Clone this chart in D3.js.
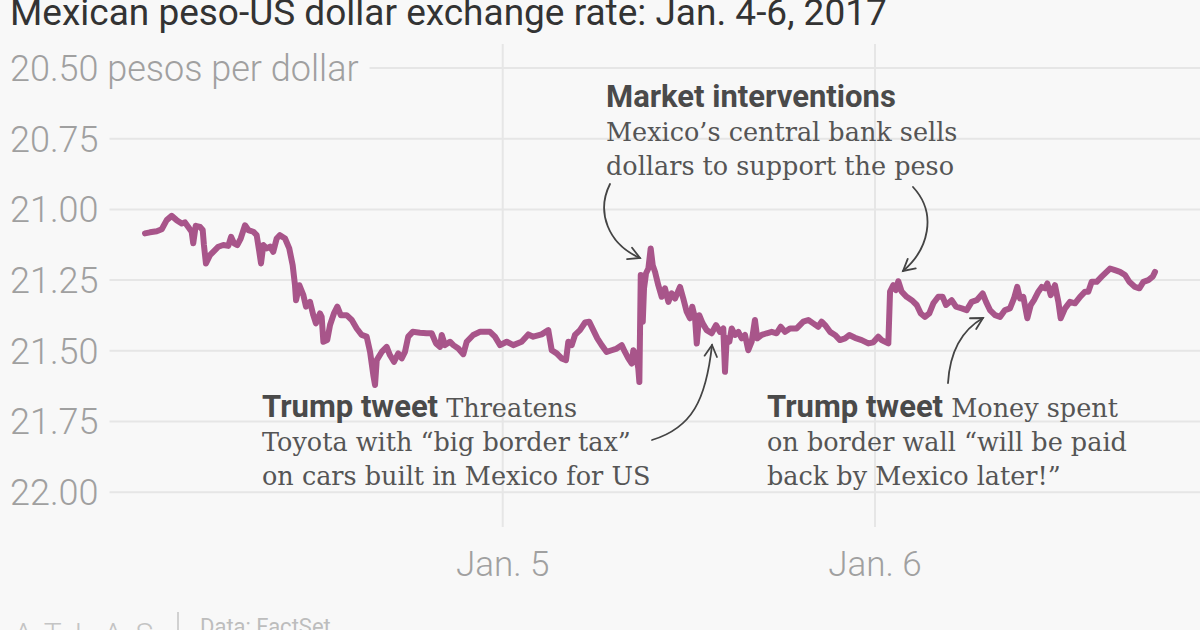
<!DOCTYPE html>
<html><head><meta charset="utf-8">
<script src="https://cdn.jsdelivr.net/npm/d3@7"></script>
<style>body{margin:0;background:#f8f8f8;} svg{display:block;}</style>
</head><body><svg id="c" width="1200" height="630"></svg>
<script>
// Hours since Jan. 4, 2017 00:00
const hours = [0.94,1.26,1.70,2.02,2.34,2.66,2.98,3.31,3.52,3.73,3.95,4.05,4.21,4.49,4.66,4.74,4.87,5.13,5.45,5.67,5.99,6.31,6.49,6.68,6.89,7.11,7.39,7.60,7.92,8.14,8.31,8.42,8.57,8.79,9.00,9.21,9.43,9.64,9.97,10.24,10.46,10.61,10.68,10.89,11.15,11.32,11.58,11.79,11.96,12.22,12.33,12.44,12.69,12.87,13.12,13.34,13.56,13.94,14.27,14.59,14.91,15.23,15.45,15.66,15.77,15.88,16.20,16.52,16.73,16.99,17.27,17.49,17.70,17.91,18.20,18.67,19.10,19.42,19.70,19.96,20.07,20.28,20.60,20.82,21.14,21.46,21.68,
22.10,22.54,23.18,23.50,23.83,24.26,24.68,25.22,25.65,25.97,26.51,26.94,27.16,27.48,27.80,28.08,28.23,28.45,28.66,28.98,29.31,29.58,29.84,30.10,30.38,30.70,31.03,31.35,31.67,31.88,32.10,32.32,32.42,32.59,32.74,32.81,32.90,33.03,33.11,33.24,33.39,33.54,33.67,33.82,34.03,34.25,34.46,34.68,34.89,35.11,35.43,35.64,35.86,36.07,36.22,36.40,36.51,36.67,36.89,37.15,37.47,37.75,38.01,38.22,38.33,38.44,38.61,38.76,38.97,39.19,39.41,39.62,39.83,40.05,40.26,40.41,40.70,41.02,41.34,41.66,41.92,42.20,42.52,42.95,
43.38,43.70,44.02,44.34,44.56,44.78,45.10,45.42,45.74,46.07,46.34,46.71,47.14,47.57,47.89,48.21,48.43,48.86,48.97,49.18,49.35,49.50,49.72,50.04,50.37,50.69,50.95,51.22,51.50,51.76,52.08,52.36,52.58,52.94,53.22,53.59,53.91,54.23,54.56,54.94,55.16,55.41,55.74,56.06,56.38,56.70,56.96,57.17,57.35,57.56,57.82,58.04,58.25,58.53,58.75,58.96,59.11,59.33,59.60,59.82,59.97,60.25,60.57,60.89,61.22,61.54,61.75,61.97,62.29,62.61,62.93,63.15,63.47,63.79,64.12,64.39,64.76,65.04,65.30,65.62,65.90,66.05];
// Pesos per US dollar
const rates = [21.085,21.081,21.077,21.070,21.038,21.023,21.038,21.050,21.046,21.062,21.079,21.120,21.058,21.062,21.073,21.126,21.191,21.162,21.144,21.132,21.126,21.129,21.097,21.120,21.126,21.103,21.056,21.073,21.079,21.091,21.150,21.191,21.126,21.138,21.132,21.150,21.103,21.091,21.103,21.138,21.197,21.268,21.321,21.268,21.303,21.344,21.327,21.374,21.403,21.368,21.380,21.468,21.462,21.409,21.368,21.344,21.374,21.374,21.391,21.421,21.444,21.450,21.504,21.586,21.621,21.533,21.504,21.486,21.515,21.539,21.509,21.527,21.504,21.450,21.433,21.436,21.438,21.438,21.474,21.486,21.444,21.480,21.468,21.480,21.492,21.512,21.468,
21.444,21.433,21.433,21.450,21.480,21.468,21.480,21.468,21.442,21.450,21.442,21.427,21.498,21.509,21.527,21.533,21.468,21.480,21.444,21.427,21.400,21.397,21.427,21.456,21.480,21.504,21.498,21.492,21.480,21.504,21.527,21.545,21.498,21.515,21.562,21.610,21.232,21.397,21.279,21.226,21.209,21.138,21.197,21.221,21.268,21.309,21.279,21.327,21.297,21.315,21.274,21.315,21.362,21.385,21.344,21.385,21.474,21.374,21.403,21.427,21.438,21.409,21.433,21.421,21.574,21.456,21.468,21.421,21.444,21.433,21.456,21.444,21.498,21.468,21.391,21.456,21.444,21.438,21.433,21.438,21.415,21.433,21.421,21.421,
21.397,21.391,21.403,21.415,21.397,21.409,21.433,21.444,21.462,21.456,21.444,21.454,21.462,21.474,21.470,21.450,21.462,21.474,21.291,21.268,21.285,21.254,21.291,21.309,21.321,21.338,21.368,21.380,21.368,21.332,21.309,21.309,21.338,21.321,21.344,21.350,21.356,21.327,21.321,21.297,21.327,21.356,21.374,21.380,21.356,21.350,21.315,21.274,21.315,21.309,21.385,21.338,21.321,21.291,21.274,21.279,21.262,21.303,21.268,21.327,21.385,21.350,21.327,21.332,21.309,21.291,21.291,21.256,21.256,21.238,21.221,21.209,21.215,21.221,21.232,21.256,21.274,21.279,21.256,21.250,21.238,21.221];

const yTicks = [20.5, 20.75, 21, 21.25, 21.5, 21.75, 22];
const yTickLabels = ["20.50 pesos per dollar", "20.75", "21.00", "21.25", "21.50", "21.75", "22.00"];
const xTickDates = [new Date(2017, 0, 5), new Date(2017, 0, 6)];
const xTickLabels = ["Jan. 5", "Jan. 6"];

const title = "Mexican peso-US dollar exchange rate: Jan. 4-6, 2017";
const source = "Data: FactSet";

const t0 = new Date(2017, 0, 4);
const data = hours.map((h, i) => ({t: new Date(+t0 + h * 3600e3), v: rates[i]}));

const svg = d3.select("#c");
const W = 1200;

const x = d3.scaleTime().domain([t0, new Date(2017, 0, 7)]).range([130.4, 1247.3]);
const y = d3.scaleLinear().domain([20.5, 22]).range([68, 492.2]);

const SANS = "Roboto, 'Noto Sans', sans-serif";
const SERIF = "'DejaVu Serif', serif";

svg.append("rect").attr("width", W).attr("height", 630).attr("fill", "#f8f8f8");

// vertical grid
svg.append("g").selectAll("line").data(xTickDates).join("line")
  .attr("x1", d => x(d)).attr("x2", d => x(d))
  .attr("y1", 44).attr("y2", 527)
  .attr("stroke", "#e6e6e6").attr("stroke-width", 2);

// y labels + horizontal grid (labels centred on their gridline)
const yg = svg.append("g");
const yl = yg.selectAll("text").data(yTicks).join("text")
  .attr("x", 10).attr("y", d => y(d) + 12.8)
  .attr("font-family", SANS).attr("font-weight", 300).attr("font-size", 36).attr("fill", "#a0a0a0")
  .text((d, i) => yTickLabels[i]);
yl.each(function(d) {
  const w = this.getComputedTextLength();
  yg.insert("line", "text").attr("x1", 10 + w + 11).attr("x2", W)
    .attr("y1", y(d)).attr("y2", y(d))
    .attr("stroke", "#e6e6e6").attr("stroke-width", 2);
});

// x labels
svg.append("g").selectAll("text").data(xTickDates).join("text")
  .attr("x", d => x(d)).attr("y", 576).attr("text-anchor", "middle")
  .attr("font-family", SANS).attr("font-weight", 300).attr("font-size", 35).attr("fill", "#a0a0a0")
  .text((d, i) => xTickLabels[i]);

// line
svg.append("path").datum(data)
  .attr("d", d3.line().x(d => x(d.t)).y(d => y(d.v)))
  .attr("fill", "none").attr("stroke", "#a8558a").attr("stroke-width", 6)
  .attr("stroke-linejoin", "round").attr("stroke-linecap", "round");

// title
svg.append("text").attr("x", 10).attr("y", 25)
  .attr("font-family", SANS).attr("font-size", 37).attr("fill", "#333")
  .text(title);

// annotations
function ann(xp, yp, lines) {
  const g = svg.append("g");
  lines.forEach((ln, i) => {
    const t = g.append("text").attr("x", xp).attr("y", yp + i * 34).attr("fill", "#4d4d4d");
    ln.forEach(seg => {
      t.append("tspan").attr("font-family", seg.b ? SANS : SERIF)
        .attr("font-weight", seg.b ? 700 : 400)
        .attr("font-size", seg.b ? 31 : 25.5)
        .attr("fill", seg.b ? "#4a4a4a" : "#555")
        .text(seg.s);
    });
  });
}
ann(606, 107, [[{s: "Market interventions", b: true}], [{s: "Mexico’s central bank sells"}], [{s: "dollars to support the peso"}]]);
ann(262, 417, [[{s: "Trump tweet", b: true}, {s: " Threatens"}], [{s: "Toyota with “big border tax”"}], [{s: "on cars built in Mexico for US"}]]);
ann(767, 417, [[{s: "Trump tweet", b: true}, {s: " Money spent"}], [{s: "on border wall “will be paid"}], [{s: "back by Mexico later!”"}]]);

// arrows
function arrow(p0, c1, c2, p1) {
  const g = svg.append("g").attr("fill", "none").attr("stroke", "#444").attr("stroke-width", 1.8).attr("stroke-linecap", "round");
  g.append("path").attr("d", `M${p0}C${c1} ${c2} ${p1}`);
  const ang = Math.atan2(p1[1] - c2[1], p1[0] - c2[0]);
  const L = 13, a = 0.5;
  const pa = [p1[0] - L * Math.cos(ang - a), p1[1] - L * Math.sin(ang - a)];
  const pb = [p1[0] - L * Math.cos(ang + a), p1[1] - L * Math.sin(ang + a)];
  g.append("path").attr("d", `M${pa}L${p1}L${pb}`);
}
arrow([610, 184], [596, 212], [608, 244], [640, 258]);
arrow([913, 187], [938, 214], [928, 250], [903, 271]);
arrow([652, 440], [692, 428], [706, 400], [712, 345]);
arrow([948, 383], [950, 350], [962, 330], [983, 318]);

// footer
svg.append("text").attr("x", 14).attr("y", 644)
  .attr("font-family", SANS).attr("font-weight", 300).attr("font-size", 30)
  .attr("letter-spacing", 13).attr("fill", "#c4c4c4").text("ATLAS");
svg.append("line").attr("x1", 178).attr("x2", 178).attr("y1", 612).attr("y2", 632)
  .attr("stroke", "#c4c4c4").attr("stroke-width", 1.5);
svg.append("text").attr("x", 200).attr("y", 634)
  .attr("font-family", SANS).attr("font-size", 22).attr("fill", "#bdbdbd").text(source);
</script></body></html>
